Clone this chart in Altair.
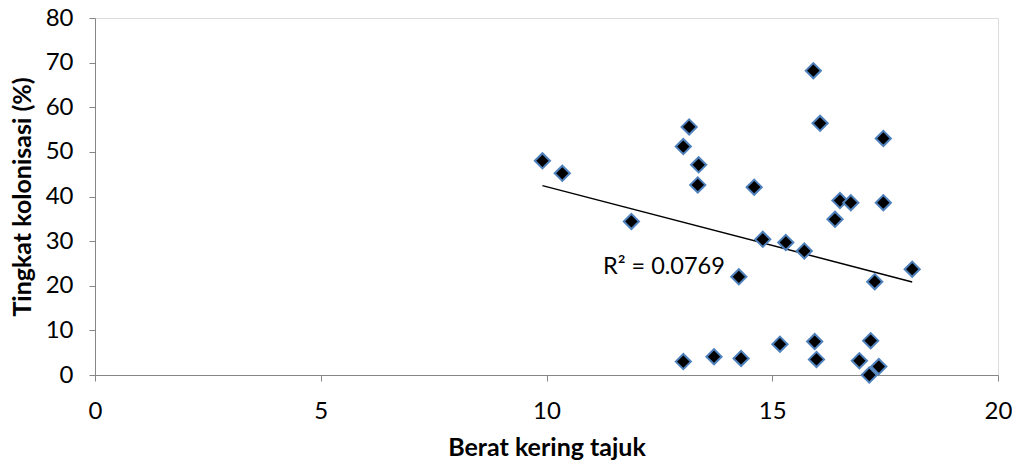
import altair as alt
import pandas as pd

berat = [9.91, 10.35, 11.88, 13.03, 13.16, 13.37, 13.35, 14.60, 14.26, 14.79,
         15.30, 15.71, 15.91, 16.06, 16.39, 16.50, 16.74, 17.46, 17.46, 17.27,
         18.10, 13.03, 13.71, 14.31, 15.17, 15.94, 15.98, 16.93, 17.18, 17.36, 17.15]
kolonisasi = [48.0, 45.2, 34.4, 51.2, 55.6, 47.1, 42.6, 42.1, 22.0, 30.4,
              29.7, 27.8, 68.2, 56.4, 34.9, 39.1, 38.6, 53.0, 38.6, 20.9,
              23.7, 3.0, 4.1, 3.7, 6.9, 7.5, 3.5, 3.2, 7.7, 1.9, 0.0]

label_text = ["R² = 0.0769"]
label_x = [11.25]
label_y = [24.1]

df = pd.DataFrame({"x": berat, "y": kolonisasi})
lab = pd.DataFrame({"x": label_x, "y": label_y, "t": label_text})

FONT = "Lato"

xs = alt.Scale(domain=[0, 20], nice=False)
ys = alt.Scale(domain=[0, 80], nice=False)

xax = alt.Axis(values=[0, 5, 10, 15, 20], title="Berat kering tajuk", grid=False,
               domainColor="#868686", tickColor="#868686", tickSize=6,
               labelFontSize=24, labelColor="#000000", labelPadding=18,
               labelFlush=False, labelOverlap=False,
               labelFont=FONT, titleFont=FONT, titleFontSize=25, titleFontWeight="bold",
               titleColor="#000000", titlePadding=12)
yax = alt.Axis(values=list(range(0, 90, 10)), title="Tingkat kolonisasi (%)", grid=False,
               domainColor="#868686", tickColor="#868686", tickSize=6,
               labelFontSize=24, labelColor="#000000", labelPadding=16,
               labelFlush=False, labelOverlap=False,
               labelFont=FONT, titleFont=FONT, titleFontSize=25, titleFontWeight="bold",
               titleColor="#000000", titlePadding=10)

pts = alt.Chart(df).mark_point(shape="diamond", filled=True, fill="#000000",
                               stroke="#4F81BD", strokeWidth=2, size=230, opacity=1).encode(
    x=alt.X("x:Q", scale=xs, axis=xax),
    y=alt.Y("y:Q", scale=ys, axis=yax),
)

trend = alt.Chart(df).transform_regression("x", "y").mark_line(
    color="#000000", strokeWidth=1.5).encode(
    x=alt.X("x:Q", scale=xs),
    y=alt.Y("y:Q", scale=ys),
)

txt = alt.Chart(lab).mark_text(align="left", baseline="middle", fontSize=23.5,
                               font=FONT, color="#000000").encode(
    x=alt.X("x:Q", scale=xs),
    y=alt.Y("y:Q", scale=ys),
    text="t:N",
)

chart = alt.layer(trend, pts, txt).properties(
    width=903, height=357,
    autosize=alt.AutoSizeParams(type="none"),
    padding={"left": 95, "top": 18, "right": 14, "bottom": 91},
).configure_view(stroke=None).configure(background="#ffffff")

chart.save("out.html", embed_options={"renderer": "svg", "actions": False})
